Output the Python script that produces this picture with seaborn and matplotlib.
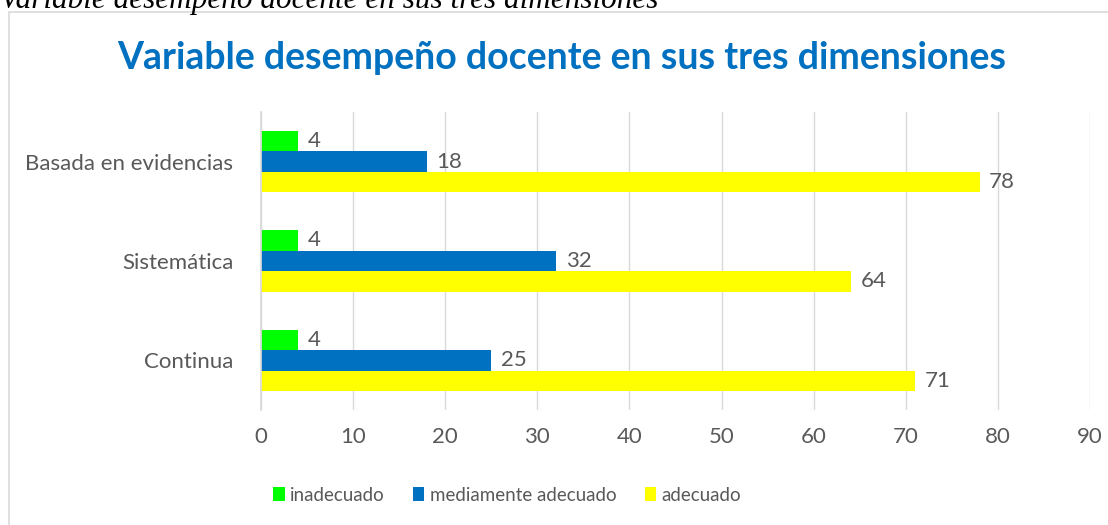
import pandas as pd
import seaborn as sns
import matplotlib.pyplot as plt
from matplotlib.patches import Rectangle

# data
dimensiones = ["Basada en evidencias", "Sistemática", "Continua"]
niveles = ["inadecuado", "mediamente adecuado", "adecuado"]
inadecuado = [4, 4, 4]
mediamente = [18, 32, 25]
adecuado = [78, 64, 71]
colores = ["#00FF00", "#0070C0", "#FFFF00"]

df = pd.DataFrame({
    "dimension": dimensiones * 3,
    "nivel": [n for n in niveles for _ in dimensiones],
    "valor": inadecuado + mediamente + adecuado,
})

sns.set_theme(style="white")
plt.rcParams["font.family"] = ["Lato", "DejaVu Sans"]
grey = "#595959"

fig = plt.figure(figsize=(11.08, 5.25), dpi=100)
ax = fig.add_axes([0.2356, 0.219, 0.7482, 0.568])

sns.barplot(data=df, y="dimension", x="valor", hue="nivel",
            order=dimensiones, hue_order=niveles, palette=colores,
            orient="h", width=0.62, gap=0, saturation=1, linewidth=0,
            ax=ax)

for cont in ax.containers:
    ax.bar_label(cont, padding=7, color=grey, fontsize=16)

ax.set_xlim(0, 90)
ax.set_xticks(range(0, 91, 10))
ax.grid(axis="x", color="#d9d9d9", linewidth=1)
ax.set_axisbelow(True)
for s in ["top", "right", "bottom"]:
    ax.spines[s].set_visible(False)
ax.spines["left"].set_color("#d9d9d9")
ax.tick_params(axis="both", length=0, labelsize=16, labelcolor=grey)
ax.tick_params(axis="x", pad=12)
ax.tick_params(axis="y", pad=20)
ax.set_xlabel("")
ax.set_ylabel("")

ax.legend(loc="upper center", bbox_to_anchor=(0.297, -0.2), ncol=3,
          frameon=False, fontsize=13.5, handlelength=0.6, handleheight=0.8,
          handletextpad=0.3, columnspacing=1.5, labelcolor=grey)

fig.text(0.507, 0.89, "Variable desempeño docente en sus tres dimensiones",
         ha="center", va="center", fontsize=27, fontweight="bold",
         color="#0070C0")

# caption cut off at the top of the image
fig.text(0.0, 1 - 8 / 525, "Variable desempeño docente en sus tres dimensiones",
         ha="left", va="baseline", fontsize=22.5, style="italic",
         family=["Liberation Serif"], color="black")

fig.patches.append(Rectangle((9 / 1108, -0.01), 1.2, 1 - 12 / 525 + 0.01,
                             transform=fig.transFigure, fill=False,
                             edgecolor="#d9d9d9", linewidth=1.2))

fig.savefig("out.png", dpi=100)
